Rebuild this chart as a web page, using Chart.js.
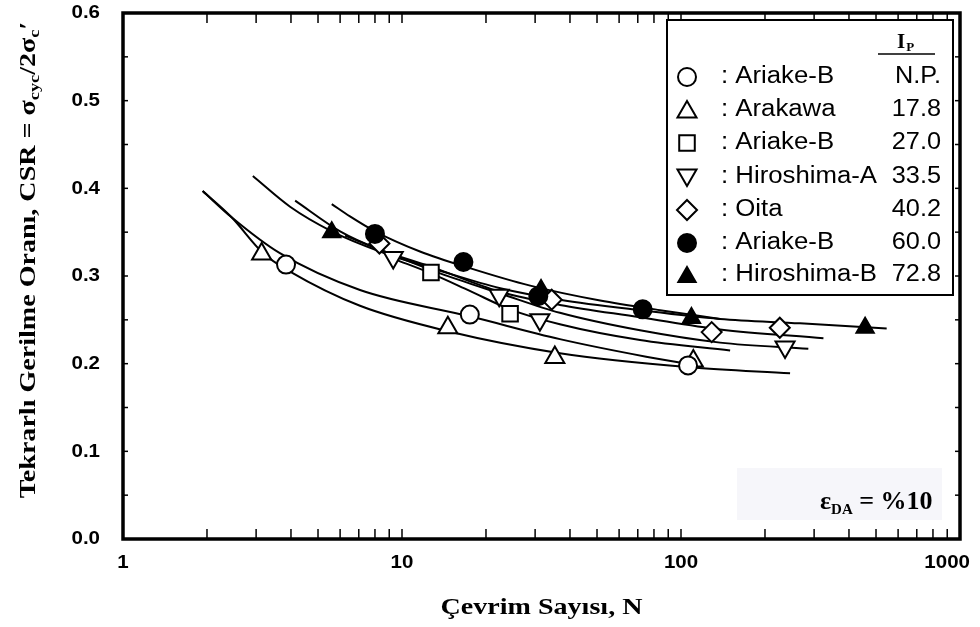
<!DOCTYPE html>
<html>
<head>
<meta charset="utf-8">
<script src="https://cdn.jsdelivr.net/npm/chart.js@4.4.1/dist/chart.umd.min.js"></script>
<style>
  html, body { margin: 0; padding: 0; background: #fff; }
  #wrap { width: 980px; height: 627px; position: relative; }
</style>
</head>
<body>
<div id="wrap"><canvas id="c" width="980" height="627"></canvas></div>
<script>
// ---- tick labels ----
const xTicks = [1, 10, 100, 1000];
const yTicks = [0, 0.1, 0.2, 0.3, 0.4, 0.5, 0.6];

// ---- legend content ----
const seriesNames = ['Ariake-B', 'Arakawa', 'Ariake-B', 'Hiroshima-A', 'Oita', 'Ariake-B', 'Hiroshima-B'];
const ipValues    = ['N.P.', '17.8', '27.0', '33.5', '40.2', '60.0', '72.8'];

// ---- test results (N cycles, CSR) ----
const ariakeNP_N   = [3.84, 17.5, 106];
const ariakeNP_CSR = [0.313, 0.256, 0.198];
const arakawa_N    = [3.14, 14.6, 35.3, 110.7];
const arakawa_CSR  = [0.325, 0.241, 0.207, 0.203];
const ariake27_N   = [12.7, 24.4];
const ariake27_CSR = [0.304, 0.257];
const hiroA_N      = [9.3, 22.3, 31.2, 236];
const hiroA_CSR    = [0.321, 0.278, 0.250, 0.219];
const oita_N       = [8.3, 34.4, 128.8, 226];
const oita_CSR     = [0.337, 0.273, 0.236, 0.241];
const ariake60_N   = [8.0, 16.6, 30.8, 72.9];
const ariake60_CSR = [0.348, 0.316, 0.277, 0.262];
const hiroB_N      = [5.6, 31.5, 109, 457];
const hiroB_CSR    = [0.350, 0.284, 0.252, 0.241];

// ---- fitted strength curves ----
const fitNP_N   = [1.93, 2.45, 3.65, 7.07, 17.5, 36.8, 75, 120];
const fitNP_CSR = [0.397, 0.367, 0.326, 0.284, 0.254, 0.228, 0.208, 0.197];
const fitArakawa_N   = [1.93, 2.45, 3.18, 3.97, 7.07, 14.6, 36.8, 107.7, 246];
const fitArakawa_CSR = [0.397, 0.367, 0.326, 0.305, 0.266, 0.237, 0.212, 0.196, 0.189];
const fitAriake27_N   = [9.44, 12.7, 17.5, 24.4, 36.8, 71.3, 150];
const fitAriake27_CSR = [0.319, 0.303, 0.283, 0.262, 0.245, 0.227, 0.215];
const fitHiroA_N   = [6.25, 9.28, 13.7, 22.5, 36.8, 71.3, 138, 286];
const fitHiroA_CSR = [0.346, 0.324, 0.303, 0.280, 0.258, 0.238, 0.224, 0.217];
const fitOita_N   = [4.14, 6.0, 8.34, 12.6, 22.5, 36.8, 71.3, 138, 324];
const fitOita_CSR = [0.386, 0.351, 0.330, 0.311, 0.282, 0.267, 0.253, 0.239, 0.229];
const fitAriake60_N   = [5.6, 6.51, 8.0, 11.6, 17.5, 28.8, 51.3, 84.1, 138];
const fitAriake60_CSR = [0.382, 0.368, 0.351, 0.328, 0.309, 0.289, 0.272, 0.261, 0.251];
const fitHiroB_N   = [2.92, 3.97, 5.6, 8.34, 13.7, 22.5, 36.8, 71.3, 138, 267, 546];
const fitHiroB_CSR = [0.414, 0.379, 0.351, 0.328, 0.306, 0.286, 0.273, 0.261, 0.251, 0.246, 0.240];

const pts = (xs, ys) => xs.map((x, i) => ({ x: x, y: ys[i] }));

// marker styles, in legend order (z: drawing order, higher goes underneath)
const markers = [
  { style: 'circle',   r: 9,  fill: '#fff', rot: 0,   z: 1 },
  { style: 'triangle', r: 11, fill: '#fff', rot: 0,   z: 1 },
  { style: 'rect',     r: 11, fill: '#fff', rot: 0,   z: 1 },
  { style: 'triangle', r: 11, fill: '#fff', rot: 180, z: 1 },
  { style: 'rectRot',  r: 10, fill: '#fff', rot: 0,   z: 1 },
  { style: 'circle',   r: 9,  fill: '#000', rot: 0,   z: 0 },
  { style: 'triangle', r: 10, fill: '#000', rot: 0,   z: 1 }
];
const markerData = [
  pts(ariakeNP_N, ariakeNP_CSR), pts(arakawa_N, arakawa_CSR), pts(ariake27_N, ariake27_CSR),
  pts(hiroA_N, hiroA_CSR), pts(oita_N, oita_CSR), pts(ariake60_N, ariake60_CSR), pts(hiroB_N, hiroB_CSR)
];
const curveData = [
  pts(fitNP_N, fitNP_CSR), pts(fitArakawa_N, fitArakawa_CSR), pts(fitAriake27_N, fitAriake27_CSR),
  pts(fitHiroA_N, fitHiroA_CSR), pts(fitOita_N, fitOita_CSR), pts(fitAriake60_N, fitAriake60_CSR),
  pts(fitHiroB_N, fitHiroB_CSR)
];

const datasets = [];
curveData.forEach((d, i) => datasets.push({
  label: 'fit ' + i, data: d, showLine: true, pointRadius: 0, borderColor: '#000',
  borderWidth: 2, cubicInterpolationMode: 'monotone', fill: false, order: 2
}));
markerData.forEach((d, i) => datasets.push({
  label: seriesNames[i] + ' ' + ipValues[i], data: d, showLine: false,
  pointStyle: markers[i].style, pointRadius: markers[i].r, pointRotation: markers[i].rot,
  pointBackgroundColor: markers[i].fill, pointBorderColor: '#000', pointBorderWidth: 2,
  order: markers[i].z
}));

const SANS = '"Liberation Sans", Arial, sans-serif';
const SERIF = '"Liberation Serif", "Times New Roman", serif';

function drawMarker(ctx, m, x, y) {
  const r = m.r;
  const rad = m.rot * Math.PI / 180;
  ctx.beginPath();
  if (m.style === 'circle') {
    ctx.arc(x, y, r, 0, Math.PI * 2);
  } else if (m.style === 'triangle') {
    for (let k = 0; k < 3; k++) {
      const a = rad + k * 2 * Math.PI / 3;
      const px = x + Math.sin(a) * r, py = y - Math.cos(a) * r;
      if (k === 0) ctx.moveTo(px, py); else ctx.lineTo(px, py);
    }
    ctx.closePath();
  } else if (m.style === 'rect') {
    const s = Math.SQRT1_2 * r;
    ctx.rect(x - s, y - s, 2 * s, 2 * s);
  } else if (m.style === 'rectRot') {
    ctx.moveTo(x, y - r); ctx.lineTo(x + r, y); ctx.lineTo(x, y + r); ctx.lineTo(x - r, y); ctx.closePath();
  }
  ctx.fillStyle = m.fill; ctx.fill();
  ctx.lineWidth = 2; ctx.strokeStyle = '#000'; ctx.stroke();
}

// text drawn with a widening factor along its baseline
function wideText(ctx, text, x, y, font, sx, align) {
  ctx.save();
  ctx.font = font;
  const w = ctx.measureText(text).width * sx;
  let x0 = x;
  if (align === 'center') x0 = x - w / 2;
  else if (align === 'right') x0 = x - w;
  ctx.translate(x0, y);
  ctx.scale(sx, 1);
  ctx.textAlign = 'left';
  ctx.fillText(text, 0, 0);
  ctx.restore();
  return w;
}

// frame, inward ticks, tick labels, axis titles, legend and strain note
const decorPlugin = {
  id: 'decor',
  afterDraw(chart) {
    const ctx = chart.ctx, a = chart.chartArea, xs = chart.scales.x, ys = chart.scales.y;
    ctx.save();
    ctx.strokeStyle = '#000';
    ctx.fillStyle = '#000';
    // inward ticks
    ctx.lineWidth = 1.5;
    for (let dec = 1; dec < 1000; dec *= 10) {
      for (let m = 1; m <= 9; m++) {
        const v = dec * m;
        if (v <= 1) continue;
        const px = xs.getPixelForValue(v);
        ctx.beginPath(); ctx.moveTo(px, a.bottom); ctx.lineTo(px, a.bottom - 10); ctx.stroke();
        ctx.beginPath(); ctx.moveTo(px, a.top); ctx.lineTo(px, a.top + 10); ctx.stroke();
      }
    }
    for (let k = 1; k < 12; k++) {
      const py = ys.getPixelForValue(k * 0.05);
      ctx.beginPath(); ctx.moveTo(a.left, py); ctx.lineTo(a.left + 5, py); ctx.stroke();
      ctx.beginPath(); ctx.moveTo(a.right, py); ctx.lineTo(a.right - 5, py); ctx.stroke();
    }
    // frame
    ctx.lineWidth = 3.5;
    ctx.strokeRect(a.left, a.top, a.right - a.left, a.bottom - a.top);

    // tick labels
    const tickFont = 'bold 19px ' + SANS;
    ctx.textBaseline = 'middle';
    xTicks.forEach(v => {
      const t = String(v);
      ctx.font = tickFont;
      const w = ctx.measureText(t).width * 1.08;
      let px = xs.getPixelForValue(v);
      if (px + w / 2 > 970) px = 970 - w / 2;
      wideText(ctx, t, px, a.bottom + 24, tickFont, 1.08, 'center');
    });
    yTicks.forEach(v => {
      let py = ys.getPixelForValue(v);
      if (py < 12) py = 12;
      wideText(ctx, v.toFixed(1), 100, py, tickFont, 1.08, 'right');
    });

    // x axis title
    ctx.textBaseline = 'alphabetic';
    wideText(ctx, 'Çevrim Sayısı, N', (a.left + a.right) / 2, 614, 'bold 23px ' + SERIF, 1.22, 'center');

    // y axis title with subscripts
    const SY = 1.22;
    const parts = [
      { t: 'Tekrarlı Gerilme Oranı, CSR = σ', f: 'bold 23px ' + SERIF, dy: 0 },
      { t: 'cyc', f: 'bold 15px ' + SERIF, dy: 4 },
      { t: '/2σ', f: 'bold 23px ' + SERIF, dy: 0 },
      { t: 'c', f: 'bold 15px ' + SERIF, dy: 4 },
      { t: '′', f: 'bold 23px ' + SERIF, dy: 0 }
    ];
    let total = 0;
    parts.forEach(p => { ctx.font = p.f; p.w = ctx.measureText(p.t).width; total += p.w; });
    ctx.save();
    ctx.translate(35, 260);
    ctx.rotate(-Math.PI / 2);
    ctx.scale(SY, 1);
    ctx.textAlign = 'left';
    let cx = -total / 2;
    parts.forEach(p => { ctx.font = p.f; ctx.fillText(p.t, cx, p.dy); cx += p.w; });
    ctx.restore();

    // legend box
    const L = 667, T = 20, R = 953, B = 295;
    ctx.fillStyle = '#fff';
    ctx.fillRect(L, T, R - L, B - T);
    ctx.lineWidth = 2;
    ctx.strokeRect(L, T, R - L, B - T);
    ctx.fillStyle = '#000';
    // header I_P
    ctx.textAlign = 'left';
    ctx.font = 'bold 21px ' + SERIF;
    ctx.fillText('I', 897, 48);
    const iw = ctx.measureText('I').width;
    ctx.font = 'bold 13px ' + SERIF;
    ctx.fillText('P', 897 + iw + 1, 51);
    ctx.lineWidth = 1.5;
    ctx.beginPath(); ctx.moveTo(878, 54); ctx.lineTo(935, 54); ctx.stroke();
    // rows
    const rowY = [77, 110, 143, 177, 210, 243, 275];
    const legFont = '23px ' + SANS;
    ctx.textBaseline = 'middle';
    seriesNames.forEach((name, i) => {
      const y = rowY[i];
      drawMarker(ctx, markers[i], 687, y + (markers[i].style === 'triangle' ? (markers[i].rot ? -2 : 2) : 0));
      ctx.fillStyle = '#000';
      wideText(ctx, ': ' + name, 721, y, legFont, 1.12, 'left');
      wideText(ctx, ipValues[i], 941, y, legFont, 1.1, 'right');
    });

    // strain level note
    ctx.fillStyle = '#f6f6fa';
    ctx.fillRect(737, 468, 205, 52);
    ctx.fillStyle = '#000';
    ctx.textBaseline = 'alphabetic';
    ctx.textAlign = 'left';
    let nx = 820;
    ctx.font = 'bold 26px ' + SERIF;
    ctx.fillText('ε', nx, 509); nx += ctx.measureText('ε').width;
    ctx.font = 'bold 15px ' + SERIF;
    ctx.fillText('DA', nx, 514); nx += ctx.measureText('DA').width;
    ctx.font = 'bold 26px ' + SERIF;
    ctx.fillText(' = %10', nx, 509);
    ctx.restore();
  }
};

new Chart(document.getElementById('c'), {
  type: 'scatter',
  data: { datasets: datasets },
  options: {
    responsive: false,
    animation: false,
    devicePixelRatio: 1,
    layout: { padding: { top: 7, right: 20, left: 0, bottom: 0 } },
    plugins: { legend: { display: false }, tooltip: { enabled: false } },
    scales: {
      x: {
        type: 'logarithmic', min: 1, max: 1000,
        afterBuildTicks: s => { s.ticks = xTicks.map(v => ({ value: v })); },
        afterFit: s => { s.height = 88; s.paddingLeft = 0; s.paddingRight = 0; },
        grid: { display: false, drawTicks: false },
        border: { display: false },
        ticks: { display: false }
      },
      y: {
        type: 'linear', min: 0, max: 0.6,
        afterBuildTicks: s => { s.ticks = yTicks.map(v => ({ value: v })); },
        afterFit: s => { s.width = 123; s.paddingTop = 0; s.paddingBottom = 0; },
        grid: { display: false, drawTicks: false },
        border: { display: false },
        ticks: { display: false }
      }
    }
  },
  plugins: [decorPlugin]
});
</script>
</body>
</html>
